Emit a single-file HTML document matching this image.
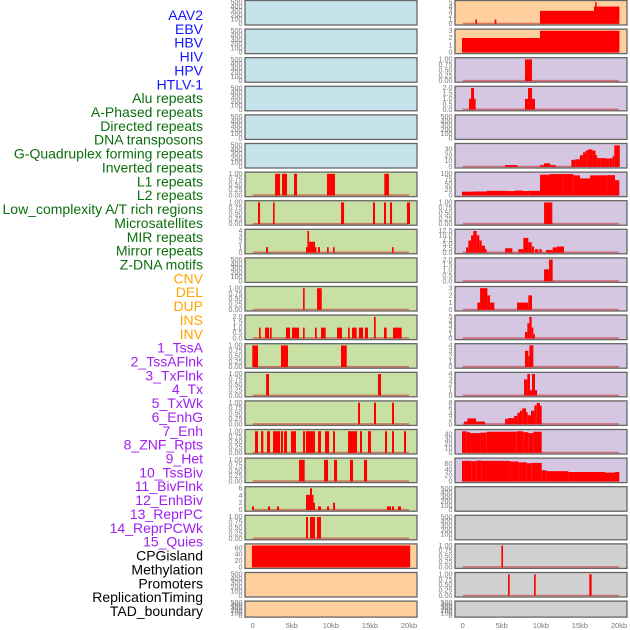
<!DOCTYPE html>
<html><head><meta charset="utf-8">
<style>
html,body{margin:0;padding:0;background:#fff;}
svg{display:block;font-family:"Liberation Sans",sans-serif;}
</style></head>
<body>
<svg id="chart" width="630" height="630" viewBox="0 0 630 630" xmlns="http://www.w3.org/2000/svg"></svg>
<script>
// ---- labels ----
const rowLabels = ["AAV2","EBV","HBV","HIV","HPV","HTLV-1","Alu repeats","A-Phased repeats","Directed repeats","DNA transposons","G-Quadruplex forming repeats","Inverted repeats","L1 repeats","L2 repeats","Low_complexity A/T rich regions","Microsatellites","MIR repeats","Mirror repeats","Z-DNA motifs","CNV","DEL","DUP","INS","INV","1_TssA","2_TssAFlnk","3_TxFlnk","4_Tx","5_TxWk","6_EnhG","7_Enh","8_ZNF_Rpts","9_Het","10_TssBiv","11_BivFlnk","12_EnhBiv","13_ReprPC","14_ReprPCWk","15_Quies","CPGisland","Methylation","Promoters","ReplicationTiming","TAD_boundary"];
const labelColors = ["#1414ff","#1414ff","#1414ff","#1414ff","#1414ff","#1414ff","#0d6e0d","#0d6e0d","#0d6e0d","#0d6e0d","#0d6e0d","#0d6e0d","#0d6e0d","#0d6e0d","#0d6e0d","#0d6e0d","#0d6e0d","#0d6e0d","#0d6e0d","#ffa500","#ffa500","#ffa500","#ffa500","#ffa500","#a020f0","#a020f0","#a020f0","#a020f0","#a020f0","#a020f0","#a020f0","#a020f0","#a020f0","#a020f0","#a020f0","#a020f0","#a020f0","#a020f0","#a020f0","#000","#000","#000","#000","#000"];
const xTicks = [0,5,10,15,20];
const xTickLabels = ["0","5kb","10kb","15kb","20kb"];

// ---- series (bars: [startKb, endKb, value]) ----
const aluBars = [], aPhasedBars = [], directedBars = [], dnaTransBars = [], gquadBars = [];
const invertedBars = [[2.86,3.50,1],[3.75,4.39,1],[5.29,5.67,1],[9.51,10.53,1],[16.84,17.44,1]];
const l1Bars = [[0.68,0.94,1],[2.60,2.81,1],[11.30,11.69,1],[15.39,15.65,1],[16.80,17.06,1],[17.57,17.83,1],[19.74,20.13,1]];
const l2Bars = [[1.71,1.96,1],[6.82,7.0,1],[7.0,7.21,4],[7.21,7.97,2],[7.97,8.1,1],[8.36,8.61,1],[9.51,9.72,1],[10.28,10.49,1],[17.83,18.04,1]];
const lowComplexBars = [];
const microsatBars = [[6.44,6.65,1],[8.23,8.83,1]];
const mirBars = [[0.81,1.02,1],[1.58,2.09,1],[2.22,2.43,1],[4.26,4.78,1],[5.03,5.93,1],[6.44,6.65,1],[7.97,8.19,1],[8.74,9.34,1],[10.79,11.43,1],[12.20,12.41,1],[12.71,13.30,1],[13.60,14.12,1],[14.37,14.75,1],[15.52,15.74,2],[16.80,17.14,1],[17.95,19.06,1]];
const mirrorBars = [[-0.05,0.68,1],[3.62,4.52,1],[11.30,12.03,1]];
const zdnaBars = [[1.71,2.09,1],[16.03,16.42,1]];
const cnvBars = [[13.48,13.73,1],[15.52,15.78,1],[17.83,18.08,1]];
const delBars = [[0.30,0.68,1],[1.07,1.36,1],[1.83,2.22,1],[2.60,3.50,1],[3.62,3.88,1],[4.01,4.39,1],[4.90,5.54,1],[6.44,6.70,1],[6.82,7.97,1],[8.36,8.74,1],[9.25,9.77,1],[10.28,10.53,1],[12.20,13.35,1],[13.73,13.99,1],[14.75,15.14,1],[16.93,17.19,1],[17.83,18.08,1],[19.36,19.62,1]];
const dupBars = [[5.93,6.65,1],[9.13,9.64,1],[10.41,10.79,1],[12.45,12.84,1],[14.24,14.63,1]];
const row18Bars = [[-0.09,0.17,1],[1.96,2.22,1],[3.11,3.37,1],[6.82,7.33,4.2],[7.33,7.59,6],[7.59,7.72,4.2],[7.72,7.97,2],[8.36,8.74,1],[9.51,9.77,1],[10.28,10.53,2],[17.19,17.70,1],[17.83,18.08,1],[18.59,18.98,1]];
const row19Bars = [[6.82,7.08,1],[7.33,7.97,1],[8.23,8.74,1]];
const row20Bars = [[-0.1,20.15,68]];
const insBars = [[1.62,1.83,1],[4.09,4.31,1],[9.89,16.80,3],[16.80,20.05,4],[16.95,17.15,5]];
const invBars = [[-0.09,9.89,2],[9.89,20.05,3]];
const tssABars = [[7.97,8.87,1]];
const tssAFlnkBars = [[0.81,1.66,1],[1.07,1.45,2],[7.97,9.25,1],[8.36,8.87,2]];
const txBars = [[5.4,7.0,3],[9.89,10.4,3],[10.4,11.2,6],[11.2,11.9,3],[13.9,14.4,12],[14.4,15.0,13],[15.0,15.4,20],[15.4,15.7,25],[15.7,16.0,28],[16.0,16.6,30],[16.6,17.0,28],[17.0,17.2,20],[17.2,17.6,15],[17.6,18.4,15],[18.4,18.8,14],[18.8,19.2,15],[19.2,19.4,19],[19.4,20.1,37]];
const txWkBars = [[-0.09,1.36,17],[1.36,3.07,18],[3.07,5.63,21],[5.63,6.70,20],[6.70,7.76,22],[7.76,8.40,20],[8.40,9.89,21],[9.89,11.17,95],[11.17,12.88,98],[12.88,14.16,98],[14.16,15.01,92],[15.01,16.29,78],[16.29,18.42,92],[18.42,19.49,93],[19.49,20.04,70]];
const enhGBars = [[10.41,11.47,1]];
const enhBars = [[0.43,0.72,3],[0.72,1.07,7],[1.07,1.36,10],[1.36,1.79,12.5],[1.79,2.13,10],[2.13,2.43,7],[2.43,2.86,4],[2.86,3.07,2],[5.42,6.35,2.5],[7.12,7.76,2],[7.76,8.40,8.5],[8.40,8.83,6],[8.83,9.13,3.5],[9.25,9.68,2],[9.81,10.11,2],[10.66,11.51,1.5],[11.51,12.03,3],[12.03,12.96,3.5]];
const znfBars = [[10.41,11.05,1.1],[11.05,11.51,2]];
const hetBars = [[1.88,2.22,1],[2.22,3.16,3],[3.16,3.50,2],[3.50,4.05,1],[6.95,8.40,1],[8.40,8.87,2]];
const tssBivBars = [[7.97,8.27,1.5],[8.27,8.53,3.5],[8.53,8.83,5],[8.83,9.04,2.5],[9.04,9.25,1]];
const bivFlnkBars = [[7.97,8.40,3],[8.40,8.53,2],[8.53,9.04,4]];
const enhBivBars = [[7.85,8.27,3],[8.27,8.61,4],[8.61,8.87,1],[8.87,9.25,4],[9.25,9.51,1]];
const reprPCBars = [[0.17,0.60,1],[0.60,1.71,2.2],[1.71,2.86,1],[5.42,5.76,2],[5.76,6.57,2.3],[6.57,6.99,3.1],[6.99,7.33,4.3],[7.33,7.63,5.1],[7.63,8.10,6],[8.10,8.32,4.5],[8.32,8.74,3.4],[8.74,9.17,5.1],[9.17,9.47,7.1],[9.47,9.89,8],[9.89,10.11,6.9]];
const reprPCWkBars = [[-0.09,0.51,47],[0.51,0.94,45],[0.94,2.22,43],[2.22,3.07,44],[3.07,6.91,46],[6.91,7.76,47],[7.76,8.40,45],[8.40,9.04,43],[9.04,10.11,46]];
const quiesBars = [[-0.09,1.15,70],[1.15,1.79,69],[1.79,2.43,71],[2.43,6.06,70],[6.06,7.12,68],[7.12,8.19,65],[8.19,8.83,62],[8.83,10.11,63],[10.11,10.75,38],[10.75,13.52,35],[13.52,18.21,32],[18.21,19.49,30],[19.49,20.04,32]];
const cpgBars = [], greyEmptyBars = [];
const methylBars = [[4.95,5.16,1]];
const promoterBars = [[5.80,6.01,1],[9.13,9.34,1],[16.20,16.50,1]];
const tadBars = [];

// ---- tick label sets ----
const t500 = ["0","100","200","300","400","500"];
const t01 = ["0.00","0.25","0.50","0.75","1.00"];
const t02 = ["0.0","0.5","1.0","1.5","2.0"];
const t0to3 = ["0","1","2","3"], t0to4 = ["0","1","2","3","4"], t0to5 = ["0","1","2","3","4","5"];
const t6 = ["0","2","4","6"], t8 = ["0","2","4","6","8"];
const t30 = ["0","10","20","30"], t40 = ["0","10","20","30","40"];
const t60 = ["0","20","40","60"], t100 = ["0","25","50","75","100"];
const t125 = ["0.0","2.5","5.0","7.5","10.0","12.5"];

const BLUE="#c6e3ec", GREEN="#c8e0a3", ORANGE="#ffcf9e", PURPLE="#d5c6e1", GREY="#d0d0d0";
const leftPanels = [
 ["aav2",[],t500,515,BLUE],["ebv",[],t500,515,BLUE],["hbv",[],t500,515,BLUE],["hiv",[],t500,515,BLUE],["hpv",[],t500,515,BLUE],["htlv1",[],t500,515,BLUE],
 ["alu",invertedBars,t01,1.02,GREEN],["a-phased",l1Bars,t01,1.02,GREEN],["directed",l2Bars,t0to4,4.05,GREEN],["dna-transposons",lowComplexBars,t500,515,GREEN],
 ["g-quadruplex",microsatBars,t01,1.02,GREEN],["inverted",mirBars,t02,2.04,GREEN],["l1",mirrorBars,t01,1.02,GREEN],["l2",zdnaBars,t01,1.02,GREEN],
 ["low-complexity",cnvBars,t01,1.02,GREEN],["microsatellites",delBars,t01,1.02,GREEN],["mir",dupBars,t01,1.02,GREEN],["mirror",row18Bars,t6,6.1,GREEN],
 ["z-dna",row19Bars,t01,1.02,GREEN],["cnv",row20Bars,t60,69,ORANGE],["del",aluBars,t500,515,ORANGE],["dup",aPhasedBars,t500,515,ORANGE]
];
const rightPanels = [
 ["ins",insBars,t0to5,5.1,ORANGE],["inv",invBars,t0to3,3.05,ORANGE],["tssa",tssABars,t01,1.02,PURPLE],["tssaflnk",tssAFlnkBars,t02,2.04,PURPLE],
 ["txflnk",directedBars,t500,515,PURPLE],["tx",txBars,t30,38,PURPLE],["txwk",txWkBars,t100,101,PURPLE],["enhg",enhGBars,t01,1.02,PURPLE],
 ["enh",enhBars,t125,12.7,PURPLE],["znf",znfBars,t02,2.04,PURPLE],["het",hetBars,t0to3,3.05,PURPLE],["tssbiv",tssBivBars,t0to5,5.1,PURPLE],
 ["bivflnk",bivFlnkBars,t0to4,4.08,PURPLE],["enhbiv",enhBivBars,t0to4,4.08,PURPLE],["reprpc",reprPCBars,t8,8.3,PURPLE],["reprpcwk",reprPCWkBars,t40,48,PURPLE],
 ["quies",quiesBars,t60,75,PURPLE],["cpgisland",cpgBars,t500,515,GREY],["grey-empty",greyEmptyBars,t500,515,GREY],["methylation",methylBars,t01,1.02,GREY],
 ["promoters",promoterBars,t01,1.02,GREY],["tad-boundary",tadBars,t500,515,GREY]
];

const svg = document.getElementById('chart');
const NS = "http://www.w3.org/2000/svg";
function mk(tag, attrs){ const e=document.createElementNS(NS,tag); for(const k in attrs) e.setAttribute(k,attrs[k]); svg.appendChild(e); return e; }

rowLabels.forEach((lab,i)=>{
  const t = mk('text',{x:203,y:(20+i*13.86).toFixed(1),'text-anchor':'end','font-size':'14',fill:labelColors[i]});
  t.textContent = lab;
  
  
});

function rowGeom(i){ const top = 0.5 + i*28.6; const h = i===21 ? 16 : 24.5; return {top, h}; }

function drawPanel(p, i, px0, side){
  const [name, bars, ticks, ymax, bg] = p;
  const {top, h} = rowGeom(i);
  const left = px0, w = 172;
  const x0 = px0 + 7.7, kbW = 7.815;
  const xs = kb => x0 + kb*kbW;
  const y0 = top + h - 1.2, yh = h - 2.5;
  const ys = v => y0 - v/ymax*yh;
  const r = mk('rect',{x:left,y:top,width:w,height:h,fill:bg,stroke:'#666','stroke-width':1.3});
  
  
  ticks.forEach(tl=>{
    const v = parseFloat(tl);
    const t = mk('text',{x:left-2.5,y:(ys(v)+2.2).toFixed(2),'text-anchor':'end','font-size':'7.2',fill:'#7a7a7a'});
    t.textContent = tl;
    
    
  });
  if(bars.length){
    const bl = mk('line',{x1:xs(0),x2:xs(20),y1:y0-0.3,y2:y0-0.3,stroke:'rgba(200,40,40,0.55)','stroke-width':1.6});
    
    
  }
  bars.forEach(b=>{
    const xa = xs(b[0]), xb = xs(b[1]);
    const yt = Math.max(ys(b[2]), top+0.8);
    const rr = mk('rect',{x:xa.toFixed(2),y:yt.toFixed(2),width:Math.max(xb-xa,1.5).toFixed(2),height:(y0-yt).toFixed(2),fill:'#ff0000'});
    
    
  });
}
leftPanels.forEach((p,i)=>drawPanel(p,i,245,'left'));
rightPanels.forEach((p,i)=>drawPanel(p,i,455,'right'));

[245,455].forEach((px0,k)=>{
  xTicks.forEach((v,j)=>{
    const t = mk('text',{x:(px0+7.7+v*7.815).toFixed(2),y:628,'text-anchor':'middle','font-size':'7.5',fill:'#7a7a7a'});
    t.textContent = xTickLabels[j];
    
    
  });
});
</script>
</body></html>
